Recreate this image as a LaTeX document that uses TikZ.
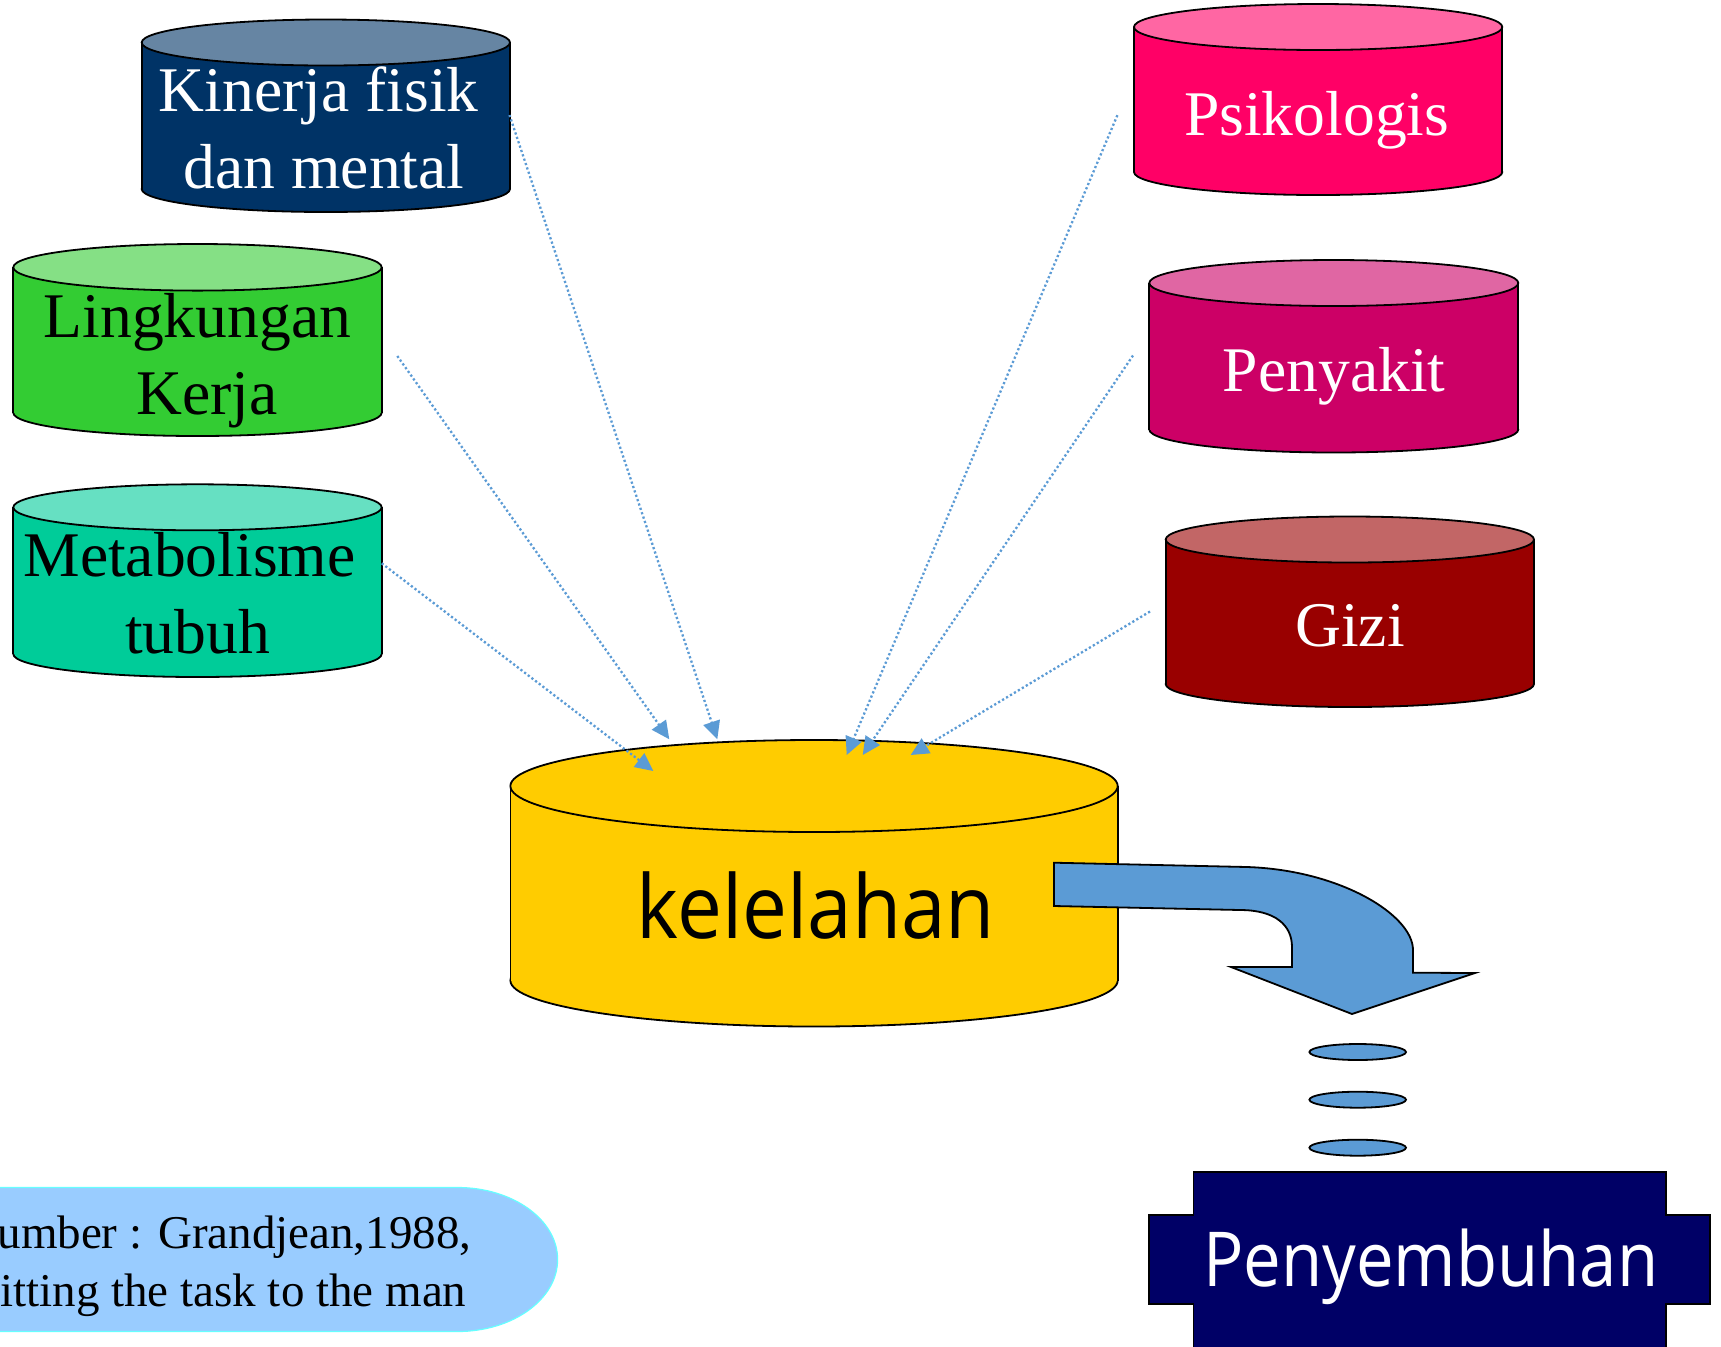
\documentclass[tikz,border=0pt]{standalone}
\usepackage{fontspec}
\setmainfont{Liberation Serif}
\newfontfamily\comicfont{Open Sans}
\usetikzlibrary{arrows.meta}
\definecolor{kinC}{HTML}{003366}
\definecolor{linC}{HTML}{33CC33}
\definecolor{metC}{HTML}{00CC99}
\definecolor{psiC}{HTML}{FF0066}
\definecolor{penC}{HTML}{CC0066}
\definecolor{giziC}{HTML}{990000}
\definecolor{kelC}{HTML}{FFCC00}
\definecolor{arrC}{HTML}{5B9BD5}
\definecolor{sembC}{HTML}{000066}
\definecolor{pillC}{HTML}{99CCFF}
\definecolor{pillB}{HTML}{66FFFF}
\tikzset{
  outl/.style={draw=black, line width=0.9pt},
  serif/.style={inner sep=0pt, anchor=base, font=\fontsize{31.8}{38}\selectfont},
  whitetxt/.style={serif, text=white},
  blacktxt/.style={serif, text=black},
  influence/.style={draw=arrC, line width=1.15pt, dash pattern=on 1.1pt off 1.2pt,
    -{Triangle[length=9pt,width=8.5pt,fill=arrC]}},
  drop/.style={fill=arrC, draw=black, line width=0.9pt},
}
\newcommand\mycyl[7]{%
  \pgfmathsetmacro\cylcx{(#1+#2)/2}%
  \pgfmathsetmacro\cylrx{(#2-#1)/2}%
  \path[fill=#6, outl] (\cylcx,#4) ellipse ({\cylrx} and {#5});
  \fill[#6] (#1,#3) rectangle (#2,#4);
  \draw[line width=0.9pt] (#1,#3) -- (#1,#4) (#2,#3) -- (#2,#4);
  \path[fill=#7, outl] (\cylcx,#3) ellipse ({\cylrx} and {#5});
}
\begin{document}
\begin{tikzpicture}[x=0.5pt,y=-0.5pt]
\useasboundingbox (0,0) rectangle (1721,1346);
\fill[white] (0,0) rectangle (1721,1346);

% cylinders
\mycyl{141.7}{510}{42.5}{189}{23}{kinC}{kinC!60!white}
\mycyl{13.3}{381.7}{267.3}{412.7}{23.3}{linC}{linC!60!white}
\mycyl{13.3}{381.7}{507.3}{654}{23}{metC}{metC!60!white}
\mycyl{1134}{1502.3}{27}{172}{23}{psiC}{psiC!60!white}
\mycyl{1149.3}{1518.3}{283}{429.5}{23}{penC}{penC!60!white}
\mycyl{1165.7}{1534}{539.5}{684}{23}{giziC}{giziC!60!white}
\mycyl{510.4}{1117.7}{786}{980.5}{46}{kelC}{kelC}

% labels
\node[whitetxt] (kin1) at (318.8,111.7) {Kinerja fisik};
\node[whitetxt] (kin2) at (324,188.3) {dan mental};
\node[blacktxt] (lin1) at (197.5,337.3) {Lingkungan};
\node[blacktxt] (lin2) at (206.7,414) {Kerja};
\node[blacktxt] (met1) at (189.5,576.7) {Metabolisme};
\node[blacktxt] (met2) at (197.7,653.3) {tubuh};
\node[whitetxt] (psi) at (1316.7,135) {Psikologis};
\node[whitetxt] (pen) at (1334.2,391.7) {Penyakit};
\node[whitetxt] (gizi) at (1350,646.7) {Gizi};
\node[inner sep=0pt, anchor=base] (kel) at (815.8,938.3)
  {\resizebox{179pt}{33.4pt}{\comicfont kelelahan}};

% influence connectors
\coordinate (sKin) at (509.5,115);
\coordinate (eKin) at (717.3,739.3);
\coordinate (sLin) at (397.3,356);
\coordinate (eLin) at (669.3,739.3);
\coordinate (sMet) at (381.7,563.3);
\coordinate (eMet) at (653.3,771);
\coordinate (sPsi) at (1117.4,115.2);
\coordinate (ePsi) at (846.7,755);
\coordinate (sPen) at (1133,355.5);
\coordinate (ePen) at (862.7,755);
\coordinate (sGizi) at (1150,611.5);
\coordinate (eGizi) at (910.7,755);
\draw[influence] (sKin) -- (eKin);
\draw[influence] (sLin) -- (eLin);
\draw[influence] (sMet) -- (eMet);
\draw[influence] (sPsi) -- (ePsi);
\draw[influence] (sPen) -- (ePen);
\draw[influence] (sGizi) -- (eGizi);

% bent arrow
\path[drop] (1054,862.7) -- (1247,867)
  .. controls (1340,870) and (1413,915) .. (1413,950)
  -- (1413,972.7) -- (1475,973) -- (1352,1014) -- (1231,967)
  -- (1292,967) -- (1292,947)
  .. controls (1292,925) and (1275,910) .. (1240,910)
  -- (1054,906) -- cycle;

% drops
\path[drop] (1357.7,1052) ellipse (48.3 and 8);
\path[drop] (1357.7,1099.7) ellipse (48.3 and 8);
\path[drop] (1357.7,1147.7) ellipse (48.3 and 8);

% Penyembuhan box
\path[fill=sembC, outl] (1193.5,1400) -- (1193.5,1304) -- (1149,1304) -- (1149,1215)
  -- (1193.5,1215) -- (1193.5,1172) -- (1666,1172) -- (1666,1215) -- (1710,1215)
  -- (1710,1304) -- (1666,1304) -- (1666,1400) -- cycle;
\node[inner sep=0pt, anchor=base, text=white] (semb) at (1430.8,1286.7)
  {\resizebox{227.5pt}{28.8pt}{\comicfont Penyembuhan}};

% source pill
\path[fill=pillC, draw=pillB, line width=0.6pt] (-60,1187.5) -- (457.6,1187.5)
  .. controls (512.8,1187.5) and (557.6,1219.7) .. (557.6,1259.5)
  .. controls (557.6,1299.3) and (512.8,1331.5) .. (457.6,1331.5)
  -- (-60,1331.5) -- cycle;
\node[inner sep=0pt, anchor=base east, font=\fontsize{23.5}{28}\selectfont] (src1)
  at (471.7,1248.3) {umber : Grandjean,1988,};
\node[inner sep=0pt, anchor=base east, font=\fontsize{23.5}{28}\selectfont] (src2)
  at (466.7,1306.7) {itting the task to the man};
\end{tikzpicture}
\end{document}
